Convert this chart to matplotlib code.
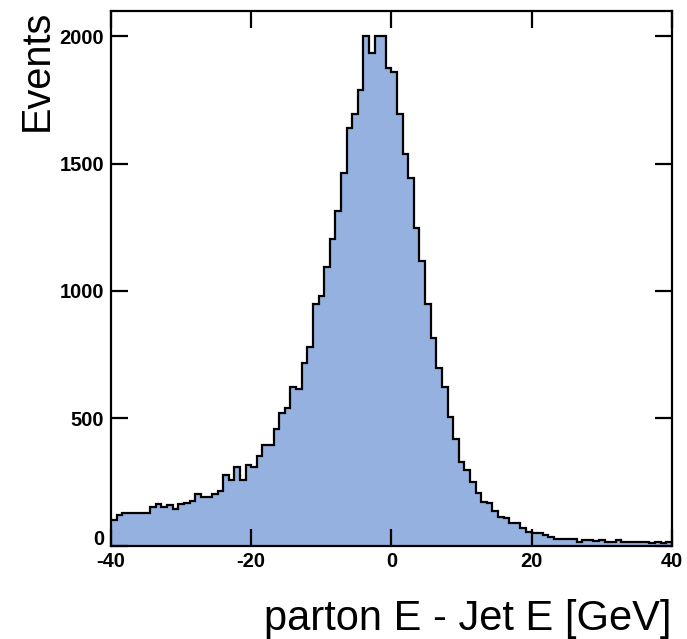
import numpy as np
import matplotlib
matplotlib.use("Agg")
import matplotlib.pyplot as plt
from matplotlib.transforms import ScaledTranslation

# Histogram: parton E - Jet E, 100 bins from -40 to 40 GeV
x_min, x_max, n_bins = -40.0, 40.0, 100
counts = [
    100, 120, 129, 129, 129, 129, 129, 152, 162, 152,
    160, 142, 165, 168, 176, 202, 192, 192, 202, 215,
    277, 257, 310, 257, 318, 310, 352, 395, 395, 456,
    519, 541, 624, 614, 718, 781, 949, 982, 1095, 1203,
    1315, 1463, 1642, 1694, 1790, 2002, 1936, 2002, 2002, 1875,
    1862, 1694, 1537, 1443, 1246, 1118, 948, 814, 697, 624,
    506, 417, 329, 297, 251, 205, 172, 168, 137, 113,
    110, 90, 88, 67, 52, 48, 48, 40, 32, 25,
    24, 24, 24, 15, 20, 20, 16, 22, 15, 15,
    22, 15, 15, 14, 12, 12, 8, 14, 8, 12,
]
x_ticks = [-40, -20, 0, 20, 40]
y_ticks = [0, 500, 1000, 1500, 2000]
x_label = "parton E - Jet E [GeV]"
y_label = "Events"

edges = np.linspace(x_min, x_max, n_bins + 1)

fig = plt.figure(figsize=(6.87, 6.39), dpi=100)
ax = fig.add_axes([0.1616, 0.1463, 0.8164, 0.8370])

fill_color = "#94b1e0"
ax.stairs(counts, edges, fill=True, facecolor=fill_color, edgecolor="none", zorder=1)
ax.stairs(counts, edges, color="black", linewidth=1.6, baseline=None, zorder=2)

ax.set_xlim(x_min, x_max)
ax.set_ylim(0, 2101)
ax.set_xticks(x_ticks)
ax.set_yticks(y_ticks)
ax.set_xticklabels([str(v) for v in x_ticks])
ax.set_yticklabels([str(v) for v in y_ticks])

for s in ax.spines.values():
    s.set_linewidth(1.6)
    s.set_zorder(3)

ax.tick_params(axis="both", which="major", direction="in", length=12, width=1.6,
               top=True, right=True, labelsize=14.5, pad=5)
for lab in ax.get_xticklabels() + ax.get_yticklabels():
    lab.set_fontfamily("Liberation Sans")
    lab.set_fontweight("bold")

# nudge the y "0" label up slightly so it clears the "-40" label
ylab0 = ax.get_yticklabels()[0]
ylab0.set_transform(ylab0.get_transform() + ScaledTranslation(0, 6 / 72, fig.dpi_scale_trans))

fig.text(0.977, 0.014, x_label, ha="right", va="baseline",
         fontsize=30, family="Liberation Sans")
fig.text(0.026, 0.985, y_label, ha="left", va="top", rotation=90,
         fontsize=28.5, family="Liberation Sans")

fig.savefig("out.png", dpi=100)
